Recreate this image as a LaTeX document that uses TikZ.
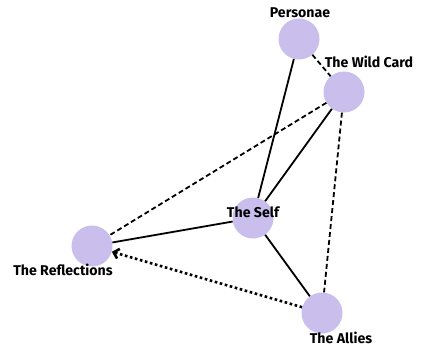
\documentclass[tikz,border=0pt]{standalone}
\usepackage{fontspec}
\setmainfont{Fira Sans}
\usetikzlibrary{arrows.meta}
\definecolor{lavender}{RGB}{201,190,236}
\begin{document}
\begin{tikzpicture}[x=1bp,y=-1bp,
	role/.style={circle, fill=lavender, minimum size=41bp, inner sep=0pt},
	tag/.style={font=\bfseries\fontsize{14.2}{15}\selectfont, inner sep=0pt},
	tie/.style={line width=1.8bp},
	loose/.style={line width=1.8bp, dash pattern=on 5bp off 3bp}]
		\useasboundingbox (0,0) rectangle (421,347);
		\node[role] (P) at (299,39) {};
		\node[role] (W) at (344,92) {};
		\node[role] (S) at (253,218) {};
		\node[role] (R) at (92,246) {};
		\node[role] (A) at (322,313) {};
		
		\draw[tie] (P) -- (S);
		\draw[loose] (P) -- (W);
		\draw[tie] (W) -- (S);
		\draw[loose] (W) -- (R);
		\draw[loose] (W) -- (A);
		\draw[tie] (S) -- (R);
		\draw[tie] (S) -- (A);
		\draw[line width=2.6bp, dash pattern=on 2.6bp off 2.6bp, -{Straight Barb[length=5bp,width=10bp,line width=2.6bp]}] (A) -- (R);
		
		\node[tag] (NP) at (300,13) {Personae};
		\node[tag] (NW) at (369,62) {The Wild Card};
		\node[tag] (NS) at (253,212) {The Self};
		\node[tag] (NR) at (63,270) {The Reflections};
		\node[tag] (NA) at (341,338) {The Allies};
\end{tikzpicture}
\end{document}
